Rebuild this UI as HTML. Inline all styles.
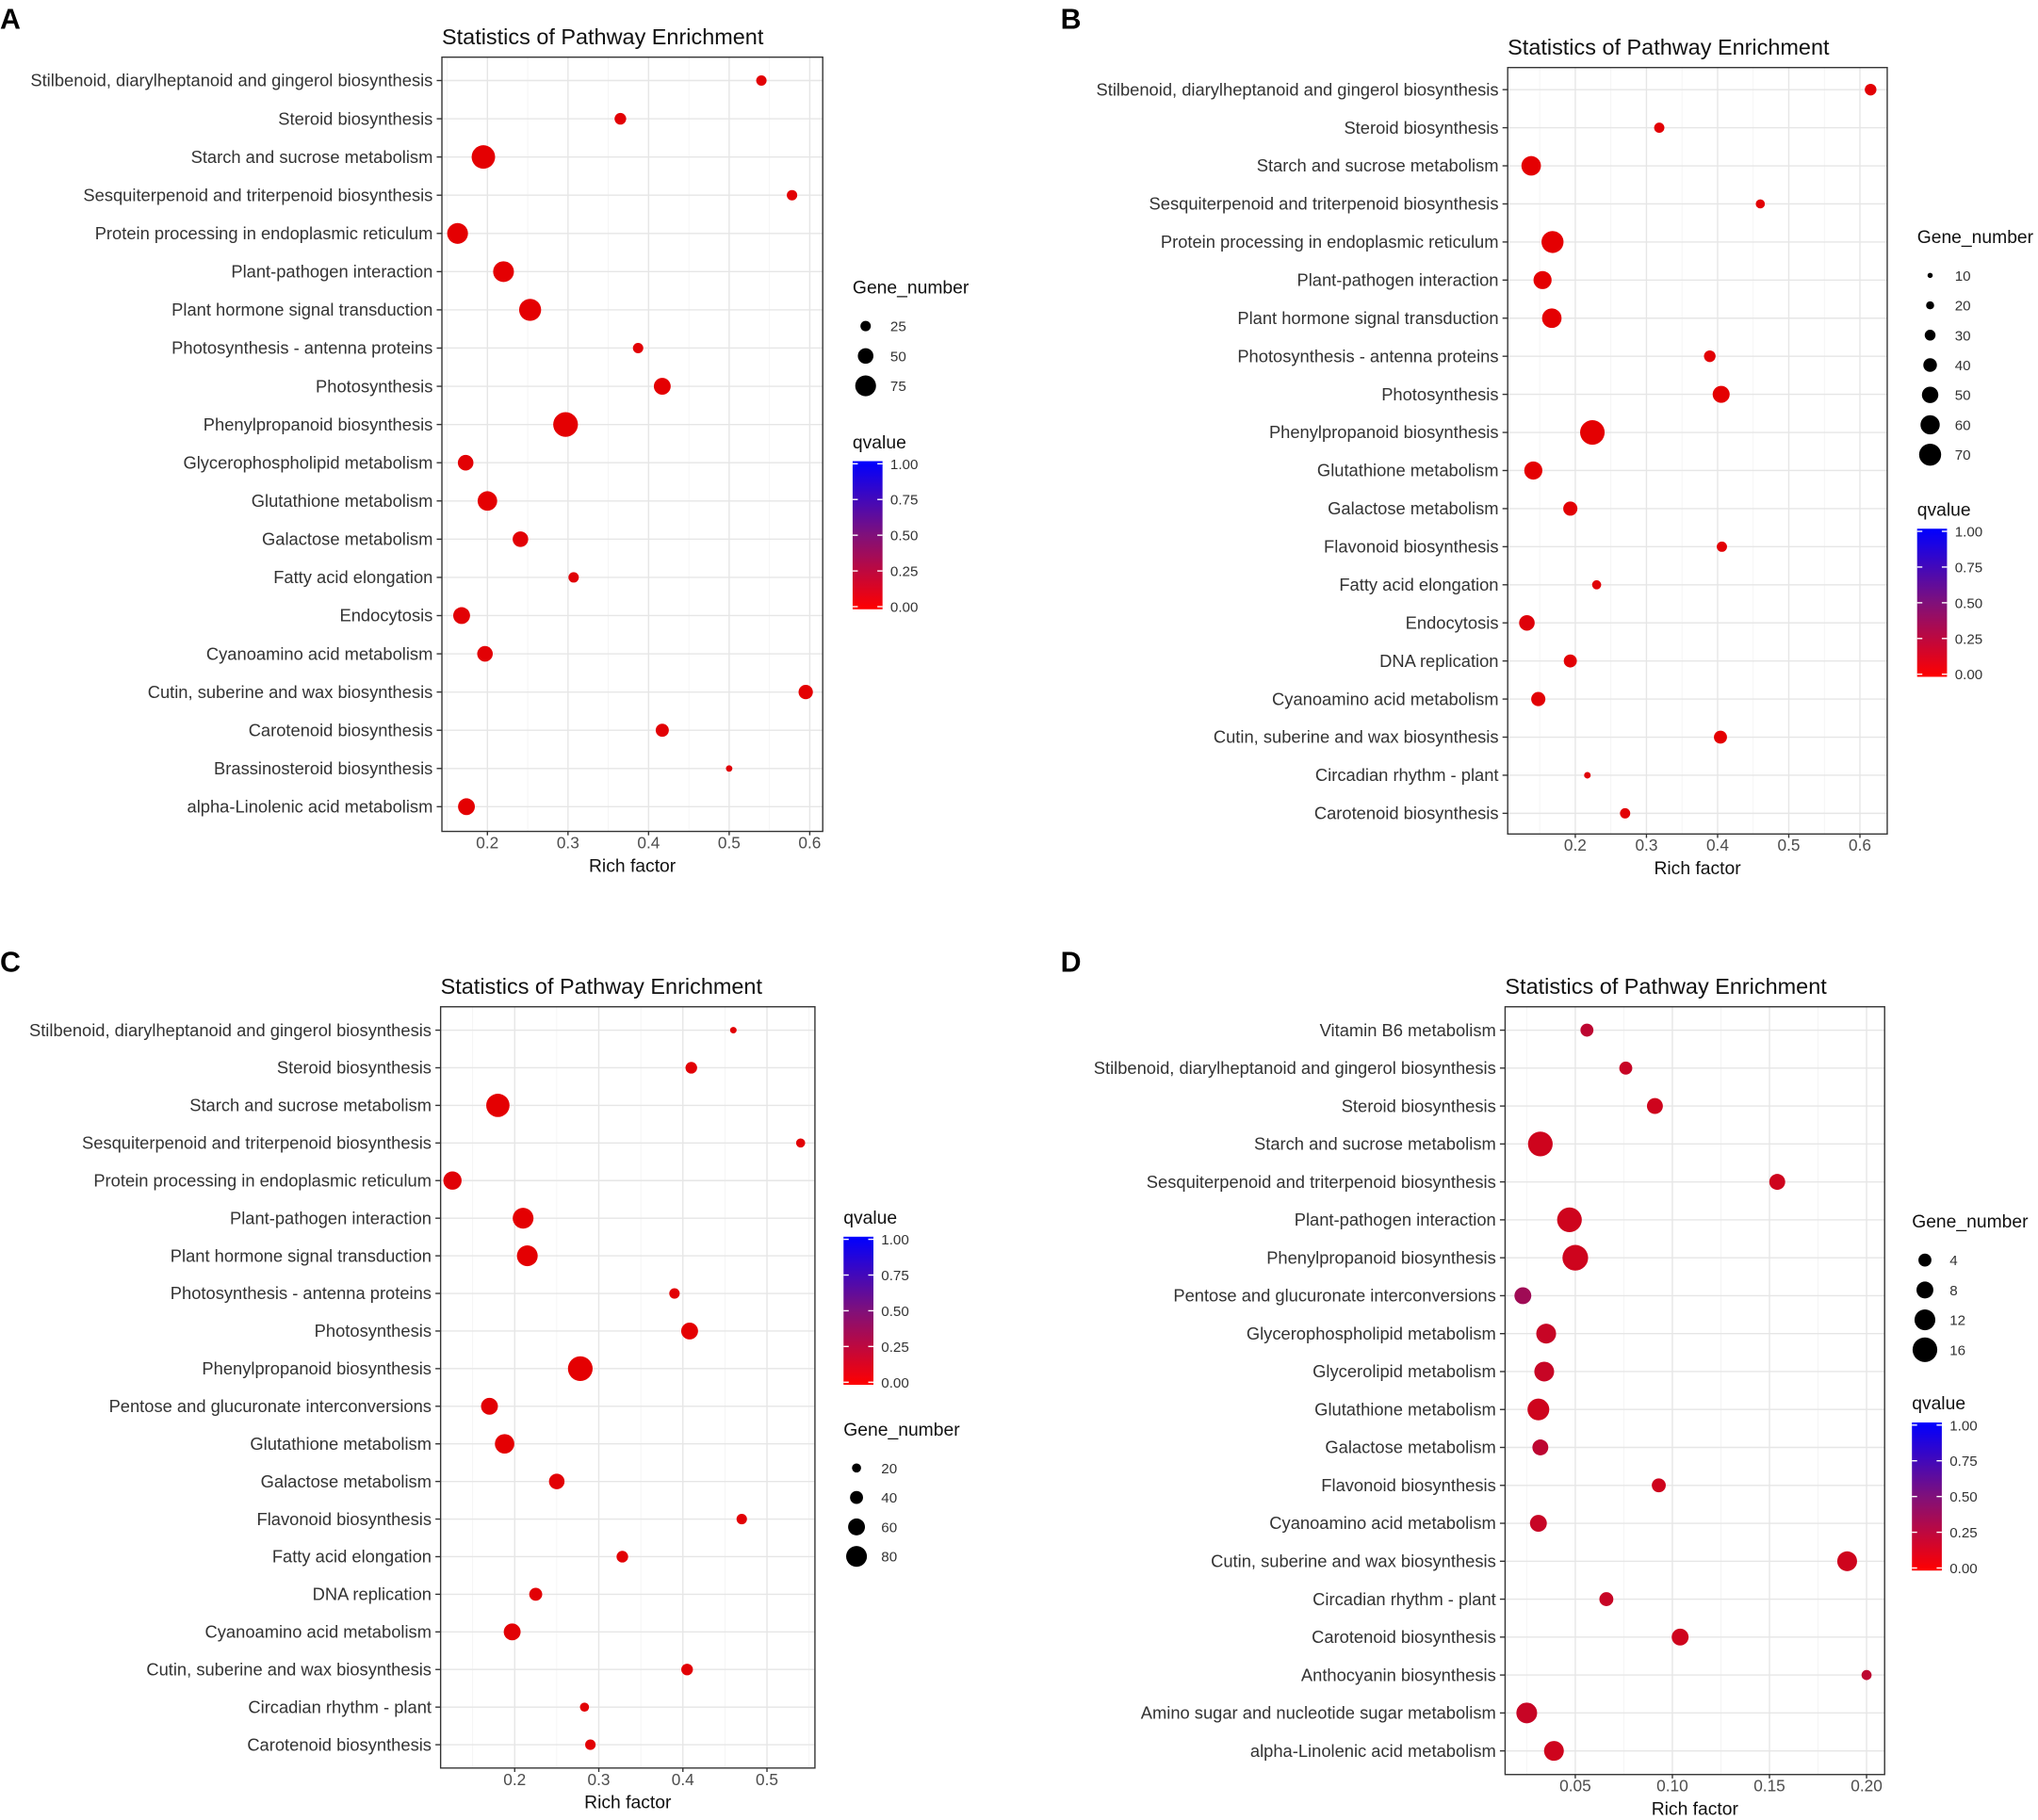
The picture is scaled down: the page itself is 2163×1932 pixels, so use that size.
<!DOCTYPE html>
<html><head><meta charset="utf-8">
<style>
html,body{margin:0;padding:0;background:#fff;}
svg{display:block;font-family:"Liberation Sans",Arial,sans-serif;}
</style></head>
<body>
<svg id="fig" width="2163" height="1932" viewBox="0 0 1568 1401" preserveAspectRatio="none" xmlns="http://www.w3.org/2000/svg">
<defs>
<linearGradient id="qgrad" x1="0" y1="1" x2="0" y2="0">
<stop offset="0" stop-color="#ff0000"/>
<stop offset="0.5" stop-color="#80107a"/>
<stop offset="1" stop-color="#0000ff"/>
</linearGradient>
</defs>
</svg>
<script>
// ---- Panel A data ----
const catsA = ["Stilbenoid, diarylheptanoid and gingerol biosynthesis","Steroid biosynthesis","Starch and sucrose metabolism","Sesquiterpenoid and triterpenoid biosynthesis","Protein processing in endoplasmic reticulum","Plant-pathogen interaction","Plant hormone signal transduction","Photosynthesis - antenna proteins","Photosynthesis","Phenylpropanoid biosynthesis","Glycerophospholipid metabolism","Glutathione metabolism","Galactose metabolism","Fatty acid elongation","Endocytosis","Cyanoamino acid metabolism","Cutin, suberine and wax biosynthesis","Carotenoid biosynthesis","Brassinosteroid biosynthesis","alpha-Linolenic acid metabolism"];
const richA = [0.54,0.365,0.195,0.578,0.163,0.22,0.253,0.387,0.417,0.297,0.173,0.2,0.241,0.307,0.168,0.197,0.595,0.417,0.5,0.174];
const genesA = [25,31,88,25,75,75,81,25,56,94,50,69,50,25,56,50,44,38,6,56];
const qA = [0.02,0.02,0.01,0.02,0.01,0.01,0.01,0.02,0.01,0.01,0.02,0.01,0.02,0.03,0.02,0.02,0.01,0.02,0.03,0.01];
const ticksA = [0.2,0.3,0.4,0.5,0.6];
const legGenesA = [25,50,75];
// ---- Panel B data ----
const catsB = ["Stilbenoid, diarylheptanoid and gingerol biosynthesis","Steroid biosynthesis","Starch and sucrose metabolism","Sesquiterpenoid and triterpenoid biosynthesis","Protein processing in endoplasmic reticulum","Plant-pathogen interaction","Plant hormone signal transduction","Photosynthesis - antenna proteins","Photosynthesis","Phenylpropanoid biosynthesis","Glutathione metabolism","Galactose metabolism","Flavonoid biosynthesis","Fatty acid elongation","Endocytosis","DNA replication","Cyanoamino acid metabolism","Cutin, suberine and wax biosynthesis","Circadian rhythm - plant","Carotenoid biosynthesis"];
const richB = [0.615,0.318,0.138,0.46,0.168,0.154,0.167,0.389,0.405,0.224,0.141,0.193,0.406,0.23,0.132,0.193,0.148,0.404,0.217,0.27];
const genesB = [33,28,61,24,70,56,61,33,52,79,56,42,28,24,47,38,42,38,15,28];
const qB = [0.02,0.02,0.01,0.02,0.01,0.01,0.01,0.02,0.01,0.01,0.01,0.02,0.02,0.03,0.04,0.02,0.02,0.01,0.03,0.02];
const ticksB = [0.2,0.3,0.4,0.5,0.6];
const legGenesB = [10,20,30,40,50,60,70];
// ---- Panel C data ----
const catsC = ["Stilbenoid, diarylheptanoid and gingerol biosynthesis","Steroid biosynthesis","Starch and sucrose metabolism","Sesquiterpenoid and triterpenoid biosynthesis","Protein processing in endoplasmic reticulum","Plant-pathogen interaction","Plant hormone signal transduction","Photosynthesis - antenna proteins","Photosynthesis","Phenylpropanoid biosynthesis","Pentose and glucuronate interconversions","Glutathione metabolism","Galactose metabolism","Flavonoid biosynthesis","Fatty acid elongation","DNA replication","Cyanoamino acid metabolism","Cutin, suberine and wax biosynthesis","Circadian rhythm - plant","Carotenoid biosynthesis"];
const richC = [0.46,0.41,0.18,0.54,0.126,0.21,0.215,0.39,0.408,0.278,0.17,0.188,0.25,0.47,0.328,0.225,0.197,0.405,0.283,0.29];
const genesC = [7,33,93,20,67,80,80,27,60,100,60,73,53,27,33,40,60,33,20,27];
const qC = [0.02,0.02,0.01,0.02,0.03,0.01,0.01,0.02,0.01,0.01,0.02,0.01,0.02,0.02,0.02,0.02,0.02,0.02,0.02,0.02];
const ticksC = [0.2,0.3,0.4,0.5];
const legGenesC = [20,40,60,80];
// ---- Panel D data ----
const catsD = ["Vitamin B6 metabolism","Stilbenoid, diarylheptanoid and gingerol biosynthesis","Steroid biosynthesis","Starch and sucrose metabolism","Sesquiterpenoid and triterpenoid biosynthesis","Plant-pathogen interaction","Phenylpropanoid biosynthesis","Pentose and glucuronate interconversions","Glycerophospholipid metabolism","Glycerolipid metabolism","Glutathione metabolism","Galactose metabolism","Flavonoid biosynthesis","Cyanoamino acid metabolism","Cutin, suberine and wax biosynthesis","Circadian rhythm - plant","Carotenoid biosynthesis","Anthocyanin biosynthesis","Amino sugar and nucleotide sugar metabolism","alpha-Linolenic acid metabolism"];
const richD = [0.056,0.076,0.091,0.032,0.154,0.047,0.05,0.023,0.035,0.034,0.031,0.032,0.093,0.031,0.19,0.066,0.104,0.2,0.025,0.039];
const genesD = [4,4,7,16,7,16,17,8,11,11,13,7,5,8,11,5,8,1,12,11];
const qD = [0.2,0.15,0.12,0.12,0.12,0.12,0.12,0.35,0.15,0.15,0.12,0.2,0.12,0.15,0.12,0.15,0.12,0.2,0.15,0.12];
const ticksD = [0.05,0.10,0.15,0.20];
const legGenesD = [4,8,12,16];

const NS = "http://www.w3.org/2000/svg";
const svg = document.getElementById("fig");
function mk(tag, attrs, parent, text) {
  const e = document.createElementNS(NS, tag);
  for (const k in attrs) e.setAttribute(k, attrs[k]);
  if (text !== undefined) e.textContent = text;
  (parent || svg).appendChild(e);
  return e;
}
function qColor(q) {
  const stops = [[0,[230,0,0]],[0.5,[128,16,122]],[1,[0,0,255]]];
  let a = stops[0], b = stops[1];
  if (q > 0.5) { a = stops[1]; b = stops[2]; }
  const t = (q - a[0]) / (b[0] - a[0]);
  const c = a[1].map((v,i) => Math.round(v + (b[1][i]-v)*t));
  return "rgb(" + c.join(",") + ")";
}

function drawPanel(p) {
  const g = mk("g", {});
  
  
  const xs = v => p.xa + (v - p.v0) * p.pxPer;
  const ys = i => p.yFirst + i * p.step;
  const rs = n => Math.max(1.5, p.r0 + (n - p.n0) * p.rk);
  const L = mk("text", {x:p.lx, y:p.ly, "font-size":22, "font-weight":"bold", fill:"#000"}, g, p.letter);
  
  
  const T = mk("text", {x:p.x0, y:p.y0-10, "font-size":17, fill:"#111"}, g, "Statistics of Pathway Enrichment");
  
  
  mk("rect", {x:p.x0, y:p.y0, width:p.x1-p.x0, height:p.y1-p.y0, fill:"#fff"}, g);
  const step = p.ticks[1]-p.ticks[0];
  for (let v = p.ticks[0] - step/2; v < p.ticks[p.ticks.length-1] + step; v += step) {
    const x = xs(v);
    if (x > p.x0 && x < p.x1) mk("line", {x1:x, x2:x, y1:p.y0, y2:p.y1, stroke:"#f3f3f3", "stroke-width":0.6}, g);
  }
  p.ticks.forEach(v => {
    const x = xs(v);
    mk("line", {x1:x, x2:x, y1:p.y0, y2:p.y1, stroke:"#e6e6e6", "stroke-width":1}, g);
    mk("line", {x1:x, x2:x, y1:p.y1, y2:p.y1+3, stroke:"#333", "stroke-width":1}, g);
    const t = mk("text", {x:x, y:p.y1+13, "font-size":12.5, "text-anchor":"middle", fill:"#4d4d4d"}, g, p.dec ? v.toFixed(2) : String(v));
    
    
  });
  p.cats.forEach((c, i) => {
    const y = ys(i);
    mk("line", {x1:p.x0, x2:p.x1, y1:y, y2:y, stroke:"#e6e6e6", "stroke-width":1}, g);
    mk("line", {x1:p.x0-4, x2:p.x0, y1:y, y2:y, stroke:"#333", "stroke-width":1}, g);
    const t = mk("text", {x:p.x0-7, y:y+4.5, "font-size":13.3, "text-anchor":"end", fill:"#333"}, g, c);
    
    
  });
  p.cats.forEach((c, i) => {
    const pt = mk("circle", {cx:xs(p.rich[i]), cy:ys(i), r:rs(p.genes[i]), fill:qColor(p.q[i])}, g);
    
    
  });
  mk("rect", {x:p.x0, y:p.y0, width:p.x1-p.x0, height:p.y1-p.y0, fill:"none", stroke:"#333", "stroke-width":1}, g);
  const XL = mk("text", {x:(p.x0+p.x1)/2, y:p.y1+31, "font-size":14, "text-anchor":"middle", fill:"#111"}, g, "Rich factor");
  
  
  const gl = mk("g", {}, g);
  
  
  mk("text", {x:p.gx, y:p.gy, "font-size":14, fill:"#111"}, gl, "Gene_number");
  p.leg.forEach((n, k) => {
    const y = p.gy + 25 + k * p.gstep;
    const c = mk("circle", {cx:p.gx+10, cy:y, r:rs(n), fill:"#000"}, gl);
    
    
    mk("text", {x:p.gx+29, y:y+4, "font-size":11, fill:"#333"}, gl, String(n));
  });
  const ql = mk("g", {}, g);
  
  
  mk("text", {x:p.qx, y:p.qy, "font-size":14, fill:"#111"}, ql, "qvalue");
  const by0 = p.qy + 10, bh = 114;
  mk("rect", {x:p.qx, y:by0, width:23, height:bh, fill:"url(#qgrad)"}, ql);
  ["1.00","0.75","0.50","0.25","0.00"].forEach((s, k) => {
    const y = by0 + 2 + k * (bh-4)/4;
    mk("line", {x1:p.qx, x2:p.qx+4, y1:y, y2:y, stroke:"#fff", "stroke-width":1}, ql);
    mk("line", {x1:p.qx+19, x2:p.qx+23, y1:y, y2:y, stroke:"#fff", "stroke-width":1}, ql);
    mk("text", {x:p.qx+29, y:y+4, "font-size":11, fill:"#333"}, ql, s);
  });
}

drawPanel({name:"panel-a", letter:"A", lx:0, ly:22, x0:340, x1:633, y0:44, y1:640, xa:375, v0:0.2, pxPer:620, yFirst:62, step:29.42,
  cats:catsA, rich:richA, genes:genesA, q:qA, ticks:ticksA, leg:legGenesA, n0:25, r0:4, rk:0.08,
  gx:656, gy:226, gstep:23, qx:656, qy:345});
drawPanel({name:"panel-b", letter:"B", lx:816, ly:22, x0:1160, x1:1452, y0:52, y1:642, xa:1212, v0:0.2, pxPer:547.5, yFirst:69, step:29.32,
  cats:catsB, rich:richB, genes:genesB, q:qB, ticks:ticksB, leg:legGenesB, n0:10, r0:2, rk:0.108,
  gx:1475, gy:187, gstep:23, qx:1475, qy:397});
drawPanel({name:"panel-c", letter:"C", lx:0, ly:748, x0:339, x1:627, y0:775, y1:1361, xa:396, v0:0.2, pxPer:647, yFirst:793, step:28.95,
  cats:catsC, rich:richC, genes:genesC, q:qC, ticks:ticksC, leg:legGenesC, n0:20, r0:3.5, rk:0.075,
  gx:649, gy:1105, gstep:22.7, qx:649, qy:942});
drawPanel({name:"panel-d", letter:"D", lx:816, ly:748, x0:1158, x1:1450, y0:775, y1:1366, xa:1212, v0:0.05, pxPer:1494, yFirst:793, step:29.2, dec:true,
  cats:catsD, rich:richD, genes:genesD, q:qD, ticks:ticksD, leg:legGenesD, n0:4, r0:5, rk:0.375,
  gx:1471, gy:945, gstep:23, qx:1471, qy:1085});
</script>
</body></html>
